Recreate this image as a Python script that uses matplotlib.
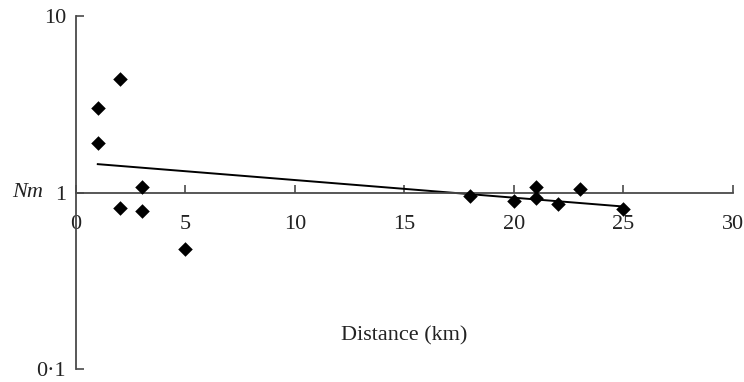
import numpy as np
import matplotlib
matplotlib.use("Agg")
import matplotlib.pyplot as plt

# Data
distance_km = [1, 1, 2, 2, 3, 3, 5, 18, 20, 21, 21, 22, 23, 25]
nm_values = [3.0, 1.9, 4.4, 0.82, 1.08, 0.785, 0.48,
             0.95, 0.90, 1.08, 0.93, 0.86, 1.05, 0.81]

x_ticks = [0, 5, 10, 15, 20, 25, 30]
y_ticks = [0.1, 1, 10]
y_tick_labels = ["0\u00b71", "1", "10"]

plt.rcParams["font.family"] = ["Liberation Serif", "DejaVu Serif"]
axis_col = "#4a4a4a"

fig = plt.figure(figsize=(7.44, 3.82), dpi=100)
ax = fig.add_axes([0.102, 0.034, 0.883, 0.924])

ax.scatter(distance_km, nm_values, marker="D", s=55, color="black",
           linewidths=0, zorder=3)

# log-linear regression line
x = np.array(distance_km, dtype=float)
slope, intercept = np.polyfit(x, np.log10(nm_values), 1)
xs = np.array([x.min(), x.max()])
ax.plot(xs, 10 ** (intercept + slope * xs), color="black", lw=1.4, zorder=2)

ax.set_yscale("log")
ax.set_ylim(0.1, 10)
ax.set_xlim(0, 30)

ax.spines["top"].set_visible(False)
ax.spines["right"].set_visible(False)
ax.spines["bottom"].set_position(("data", 1))
for s in ("left", "bottom"):
    ax.spines[s].set_color(axis_col)
    ax.spines[s].set_linewidth(1.3)

ax.set_xticks(x_ticks)
ax.set_xticklabels([str(t) for t in x_ticks])
ax.set_yticks(y_ticks)
ax.set_yticklabels(y_tick_labels)
ax.yaxis.set_minor_locator(matplotlib.ticker.NullLocator())

ax.tick_params(axis="x", direction="in", length=6, width=1.2, color=axis_col,
               labelsize=16, pad=16, labelcolor="#222222")
ax.tick_params(axis="y", direction="in", length=6, width=1.2, color=axis_col,
               labelsize=16, pad=7, labelcolor="#222222")

ax.text(-0.05, 0.5, "Nm", transform=ax.transAxes, fontsize=16,
        style="italic", ha="right", va="center", color="#222222")
ax.text(0.5, 0.095, "Distance (km)", transform=ax.transAxes, fontsize=16,
        ha="center", va="center", color="#222222")

fig.savefig("out.png", dpi=100)
